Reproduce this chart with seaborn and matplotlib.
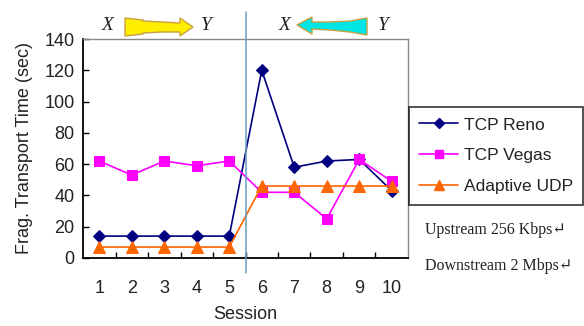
import matplotlib
matplotlib.use("Agg")
import matplotlib.pyplot as plt
import seaborn as sns
import pandas as pd
from matplotlib.patches import Polygon
from matplotlib.lines import Line2D

sessions = [1, 2, 3, 4, 5, 6, 7, 8, 9, 10]
tcp_reno = [14, 14, 14, 14, 14, 120, 58, 62, 63, 43]
tcp_vegas = [62, 53, 62, 59, 62, 42, 42, 25, 63, 49]
adaptive_udp = [7, 7, 7, 7, 7, 46, 46, 46, 46, 46]
series_names = ["TCP Reno", "TCP Vegas", "Adaptive UDP"]
y_ticks = [0, 20, 40, 60, 80, 100, 120, 140]

df = pd.DataFrame({
    "Session": sessions * 3,
    "Time": tcp_reno + tcp_vegas + adaptive_udp,
    "Protocol": [series_names[0]] * 10 + [series_names[1]] * 10 + [series_names[2]] * 10,
})

sns.set_theme(style="white")
plt.rcParams["font.family"] = ["Liberation Sans", "DejaVu Sans"]

W, H = 584, 326
fig = plt.figure(figsize=(W / 100, H / 100), dpi=100)
ax = fig.add_axes([83 / W, 1 - 258 / H, (408 - 83) / W, (258 - 39) / H])

palette = {"TCP Reno": "#000080", "TCP Vegas": "#FF00FF", "Adaptive UDP": "#FF6600"}
markers = {"TCP Reno": "D", "TCP Vegas": "s", "Adaptive UDP": "^"}
sizes = {"TCP Reno": 6, "TCP Vegas": 7, "Adaptive UDP": 8}
for name in series_names:
    sub = df[df["Protocol"] == name]
    sns.lineplot(data=sub, x="Session", y="Time", color=palette[name], marker=markers[name],
                 markersize=sizes[name], markeredgecolor=palette[name], linewidth=1.2,
                 ax=ax, legend=False, zorder=3)

ax.set_xlim(0.5, 10.5)
ax.set_ylim(0, 140)
ax.set_xticks(sessions)
ax.set_xticks([s + 0.5 for s in sessions[:-1]], minor=True)
ax.set_yticks(y_ticks)
ax.tick_params(axis="x", which="major", length=0, labelsize=13, pad=16, colors="#222222")
ax.tick_params(axis="x", which="minor", direction="in", length=4, width=1, color="black", bottom=True)
ax.tick_params(axis="y", direction="in", length=4, width=1, color="black", left=True, labelsize=13, pad=6,
               labelcolor="#222222")
ax.set_xlabel("Session", fontsize=13, color="#222222", labelpad=6)
ax.set_ylabel("Frag. Transport Time (sec)", fontsize=13, color="#222222", labelpad=8)

for s in ["left", "bottom"]:
    ax.spines[s].set_color("black")
    ax.spines[s].set_linewidth(1.3)
for s in ["top", "right"]:
    ax.spines[s].set_color("#888888")
    ax.spines[s].set_linewidth(1.0)

# vertical separator
ax.plot([5.5, 5.5], [-0.07, 1.125], color="#6a9cc0", linewidth=1.1,
        transform=ax.get_xaxis_transform(), clip_on=False, zorder=4)

# legend
handles = [Line2D([0], [0], color=palette[n], marker=markers[n], markersize=sizes[n] - 1,
                  linewidth=1.2) for n in series_names]
leg = fig.legend(handles, series_names, loc="upper left",
                 bbox_to_anchor=(409 / W, 1 - 107 / H), fontsize=12.5, frameon=True,
                 fancybox=False, borderpad=0.6, labelspacing=0.9, handlelength=2.2,
                 handletextpad=0.35, borderaxespad=0)
leg.get_frame().set_edgecolor("black")
leg.get_frame().set_linewidth(1.2)
for t in leg.get_texts():
    t.set_color("#222222")

serif = ["Liberation Serif", "DejaVu Serif"]
fig.text(425 / W, 1 - 230 / H, "Upstream 256 Kbps\u21b5", fontsize=11.5, family=serif,
         va="center", ha="left", color="#222222")
fig.text(425 / W, 1 - 266 / H, "Downstream 2 Mbps\u21b5", fontsize=11.5, family=serif,
         va="center", ha="left", color="#222222")


# direction annotations
def px(x, y):
    return (x / W, 1 - y / H)


for x, label in [(108, "X"), (206, "Y"), (285, "X"), (383, "Y")]:
    fig.text(x / W, 1 - 26 / H, label, fontsize=14, family=serif, style="italic",
             ha="center", va="center", color="#222222")

yellow = [px(125, 18), px(143, 20), px(143, 21), px(162, 22), px(180, 23), px(180, 18),
          px(193, 27), px(180, 36), px(180, 32), px(162, 32), px(143, 33), px(143, 34), px(125, 36)]
fig.add_artist(Polygon(yellow, closed=True, facecolor="#FFEE00", edgecolor="#C8A040",
                       linewidth=1, transform=fig.transFigure))
cyan = [px(297, 25), px(312, 17), px(312, 22), px(330, 22), px(350, 21), px(367, 18),
        px(367, 35), px(350, 32), px(330, 30), px(312, 29), px(312, 34)]
fig.add_artist(Polygon(cyan, closed=True, facecolor="#00E5E5", edgecolor="#C8A040",
                       linewidth=1, transform=fig.transFigure))

fig.savefig("out.png", dpi=100)
